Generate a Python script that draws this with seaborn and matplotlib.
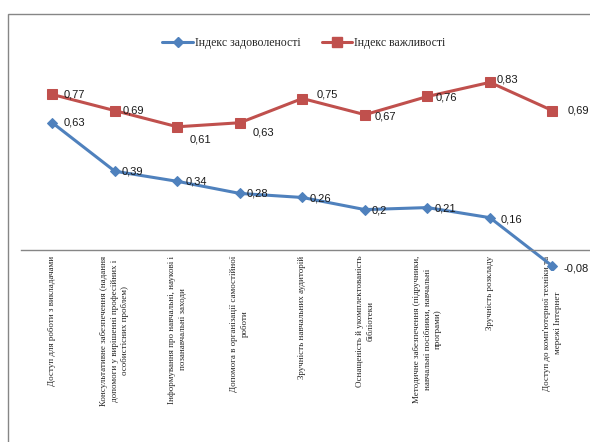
import numpy as np
import pandas as pd
import matplotlib
matplotlib.use("Agg")
import matplotlib.pyplot as plt
import seaborn as sns
from matplotlib.patches import Rectangle
from matplotlib.lines import Line2D

# Categories (x axis) and the two index series
categories = [
    "Доступ для роботи з викладачами",
    "Консультативне забезпечення (надання\nдопомоги у вирішенні професійних і\nособистісних проблем)",
    "Інформування про навчальні, наукові і\nпозанавчальні заходи",
    "Допомога в організації самостійної\nроботи",
    "Зручність навчальних аудиторій",
    "Оснащеність й укомплектованість\nбібліотеки",
    "Методичне забезпечення (підручники,\nнавчальні посібники, навчальні\nпрограми)",
    "Зручність розкладу",
    "Доступ до комп'ютерної техніки та\nмережі Інтернет",
]
satisfaction = [0.63, 0.39, 0.34, 0.28, 0.26, 0.2, 0.21, 0.16, -0.08]
importance = [0.77, 0.69, 0.61, 0.63, 0.75, 0.67, 0.76, 0.83, 0.69]
series_names = ["Індекс задоволеності", "Індекс важливості"]

blue = "#4F81BD"
red = "#C0504D"
grey = "#868686"

sns.set_style("white")
plt.rcParams["font.family"] = ["Liberation Serif", "DejaVu Serif"]

df = pd.DataFrame({"pos": np.arange(len(categories)),
                   "sat": satisfaction, "imp": importance})

fig = plt.figure(figsize=(5.9, 4.42), dpi=100)
ax = fig.add_axes([21 / 590, 1 - 270.2 / 442, 1 - 21 / 590, (270.2 - 58.1) / 442])

sns.lineplot(data=df, x="pos", y="sat", ax=ax, color=blue, lw=2.2,
             marker="D", markersize=5.5, markeredgecolor=blue)
sns.lineplot(data=df, x="pos", y="imp", ax=ax, color=red, lw=2.2,
             marker="s", markersize=7, markeredgecolor=red)

ax.set_xlim(-0.5, 8.6)
ax.set_ylim(-0.1, 0.95)

for s in ["top", "right", "left"]:
    ax.spines[s].set_visible(False)
ax.spines["bottom"].set_position(("data", 0))
ax.spines["bottom"].set_color(grey)
ax.spines["bottom"].set_linewidth(1)
ax.set_yticks([])
ax.set_xticks(df["pos"])
ax.set_xticklabels(categories, rotation=90, fontsize=6.5, ha="center",
                   va="top", multialignment="center", linespacing=1.45)
ax.tick_params(axis="x", length=0, pad=4)
ax.set_xlabel("")
ax.set_ylabel("")

# data labels (offsets in points, left edge of text)
imp_off = [(8, 0), (6, 0), (9, -9), (9, -7), (10, 3), (7, -1), (6, -1), (5, 2), (11, 0)]
sat_off = [(8, 0), (5, 0), (6, 0), (5, 0), (5, -1), (5, -1), (5, -1), (8, -1), (8, -2)]
lab_font = dict(family=["Liberation Sans", "DejaVu Sans"], fontsize=8, color="#1a1a1a")
for i in range(len(categories)):
    ax.annotate(f"{importance[i]:g}".replace(".", ","), (i, importance[i]),
                xytext=imp_off[i], textcoords="offset points",
                ha="left", va="center", **lab_font)
    ax.annotate(f"{satisfaction[i]:g}".replace(".", ","), (i, satisfaction[i]),
                xytext=sat_off[i], textcoords="offset points",
                ha="left", va="center", **lab_font)

handles = [Line2D([], [], color=blue, lw=2.2, marker="D", markersize=5.5),
           Line2D([], [], color=red, lw=2.2, marker="s", markersize=7)]
fig.legend(handles, series_names, loc="center", bbox_to_anchor=(0.515, 1 - 43 / 442),
           ncol=2, frameon=False, fontsize=8.5, handlelength=2.6,
           handletextpad=0.15, columnspacing=1.8)

# chart frame
fig.patches.append(Rectangle((8 / 590, -0.05), 1.0, 1 - 14 / 442 + 0.05,
                             transform=fig.transFigure, fill=False,
                             edgecolor=grey, lw=1))

fig.savefig("out.png", dpi=100)
